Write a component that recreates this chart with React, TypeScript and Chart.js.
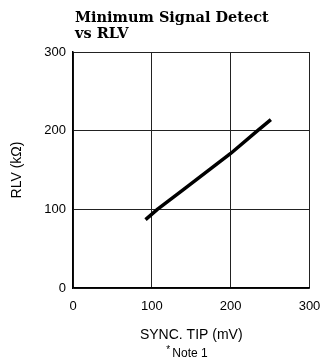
import React, { useEffect, useRef } from "react";
import { Chart, registerables } from "chart.js";

Chart.register(...registerables);

const titleLines = ["Minimum Signal Detect", "vs RLV"];
const xTitle = "SYNC. TIP (mV)";
const yTitle = "RLV (kΩ)";
const noteText = "Note 1";
const syncTipMv = [92, 107, 140, 200, 233, 251];
const rlvKohm = [87, 100, 125, 171, 199, 214];
const axisMin = 0;
const axisMax = 300;
const axisStep = 100;

const W = 324;
const H = 359;

const textPlugin = {
  id: "textPlugin",
  afterDraw(chart: any) {
    const ctx = chart.ctx;
    const area = chart.chartArea;
    ctx.save();
    ctx.fillStyle = "#000";
    ctx.textAlign = "left";
    ctx.textBaseline = "alphabetic";
    ctx.font = "bold 14.5px 'DejaVu Serif'";
    ctx.fillText(titleLines[0], area.left + 2, 22);
    ctx.fillText(titleLines[1], area.left + 2, 38);
    // note
    ctx.font = "12px 'Liberation Sans'";
    const nw = ctx.measureText(noteText).width;
    const cx = 188;
    ctx.fillText(noteText, cx - nw / 2 + 2, 357);
    ctx.font = "10px 'Liberation Sans'";
    ctx.fillText("*", cx - nw / 2 - 4, 353);
    ctx.restore();
  },
};

export default function App() {
  const ref = useRef<HTMLCanvasElement | null>(null);
  useEffect(() => {
    const canvas = ref.current;
    if (!canvas) return;
    const chart = new Chart(canvas, {
      type: "line",
      data: {
        datasets: [
          {
            data: syncTipMv.map((x, i) => ({ x, y: rlvKohm[i] })),
            borderColor: "#000",
            borderWidth: 3.5,
            pointRadius: 0,
            tension: 0,
            fill: false,
          },
        ],
      },
      options: {
        responsive: false,
        animation: false,
        devicePixelRatio: 1,
        layout: { padding: { top: 52, right: 14.5, left: 0, bottom: 0 } },
        plugins: {
          legend: { display: false },
          tooltip: { enabled: false },
          title: { display: false },
        },
        scales: {
          x: {
            type: "linear",
            min: axisMin,
            max: axisMax,
            afterFit: (s: any) => {
              s.height = H - 288;
              s.paddingLeft = 0;
              s.paddingRight = 0;
            },
            ticks: {
              stepSize: axisStep,
              color: "#000",
              font: { family: "'Liberation Sans'", size: 13 },
              padding: 11,
              maxRotation: 0,
            },
            grid: { color: "#222", lineWidth: 1, drawTicks: false },
            border: { color: "#000", width: 1.5 },
            title: {
              display: true,
              text: xTitle,
              color: "#000",
              font: { family: "'Liberation Sans'", size: 14 },
              padding: { top: 0, bottom: 15 },
            },
          },
          y: {
            type: "linear",
            min: axisMin,
            max: axisMax,
            afterFit: (s: any) => {
              s.width = 73;
              s.paddingTop = 0;
              s.paddingBottom = 0;
            },
            ticks: {
              stepSize: axisStep,
              color: "#000",
              font: { family: "'Liberation Sans'", size: 13 },
              padding: 7,
            },
            grid: { color: "#222", lineWidth: 1, drawTicks: false },
            border: { color: "#000", width: 1.5 },
            title: {
              display: true,
              text: yTitle,
              color: "#000",
              font: { family: "'Liberation Sans'", size: 14 },
              padding: { top: 9, bottom: 0 },
            },
          },
        },
      },
      plugins: [textPlugin],
    });
    return () => chart.destroy();
  }, []);
  return (
    <div style={{ position: "fixed", left: 0, top: 0, width: W, height: H, background: "#fff" }}>
      <canvas ref={ref} width={W} height={H} style={{ width: W, height: H, display: "block" }} />
    </div>
  );
}
